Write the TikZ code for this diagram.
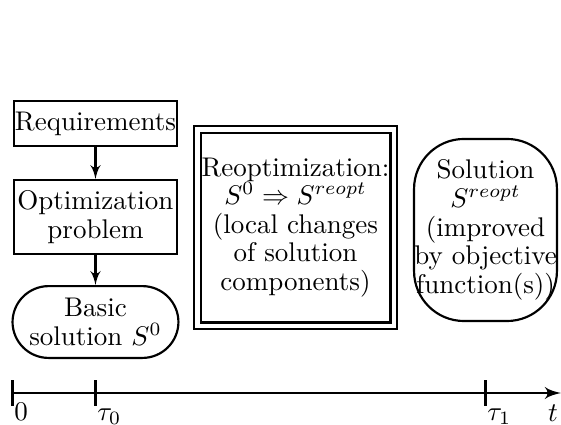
\documentclass[tikz,border=0pt]{standalone}
\usepackage{amsmath}
\usetikzlibrary{arrows}
\tikzset{box/.style = {shape=rectangle,draw,thick,align=center,inner sep=0pt}}
\tikzset{rbox/.style = {box,rounded corners=#1}}
\tikzset{dbox/.style = {box,double,double distance=1.6pt}}
\tikzset{edge/.style = {->,> = latex',thick}}
\tikzset{axis/.style = {->,> = latex',line width=1.1pt}}
\tikzset{ticklab/.style = {anchor=north west,inner sep=0.5pt,text height=1.5ex}}

\begin{document}
\begin{tikzpicture}[font=\fontsize{10}{10.6}\selectfont]
      \useasboundingbox (-0.163,-0.404) rectangle (7.14,5.116);

      \node[box,minimum width=2.13cm,minimum height=0.584cm] (req) at (1.08, 3.508) {Requirements};
      \node[box,minimum width=2.13cm,minimum height=0.96cm] (opt) at (1.08, 2.291) {Optimization\\problem};
      \node[rbox=0.47cm,minimum width=2.16cm,minimum height=0.935cm] (basic) at (1.08, 0.924) {Basic\\solution $S^0$};
      \node[dbox,minimum width=2.555cm,minimum height=2.555cm] (reopt) at (3.684, 2.154)
           {Reoptimization:\\$S^0 \Rightarrow S^{reopt}$\\(local changes\\of solution\\components)};
      \node[rbox=0.65cm,minimum width=1.86cm,minimum height=2.37cm] (sol) at (6.157, 2.122)
           {Solution\\$S^{reopt}$\\(improved\\by objective\\function(s))};

      \draw[edge] (req) to (opt);
      \draw[edge] (opt) to (basic);

      % time axis
      \coordinate (t0) at (0, 0);
      \coordinate (tau0) at (1.08, 0);
      \coordinate (tau1) at (6.157, 0);
      \coordinate (tend) at (7.14, 0);
      \draw[axis] (t0) to (tend);
      \foreach \p/\lab in {t0/$0$, tau0/$\tau_0$, tau1/$\tau_1$} {
        \draw[line width=1.1pt] ([yshift=0.163cm]\p) -- ([yshift=-0.163cm]\p);
        \node[ticklab] (\p lab) at ([yshift=-0.1cm]\p) {\lab};
      }
      \node[ticklab,anchor=north east,inner sep=1pt] (tlab) at ([yshift=-0.1cm]tend) {$t$};
    \end{tikzpicture}
\end{document}
